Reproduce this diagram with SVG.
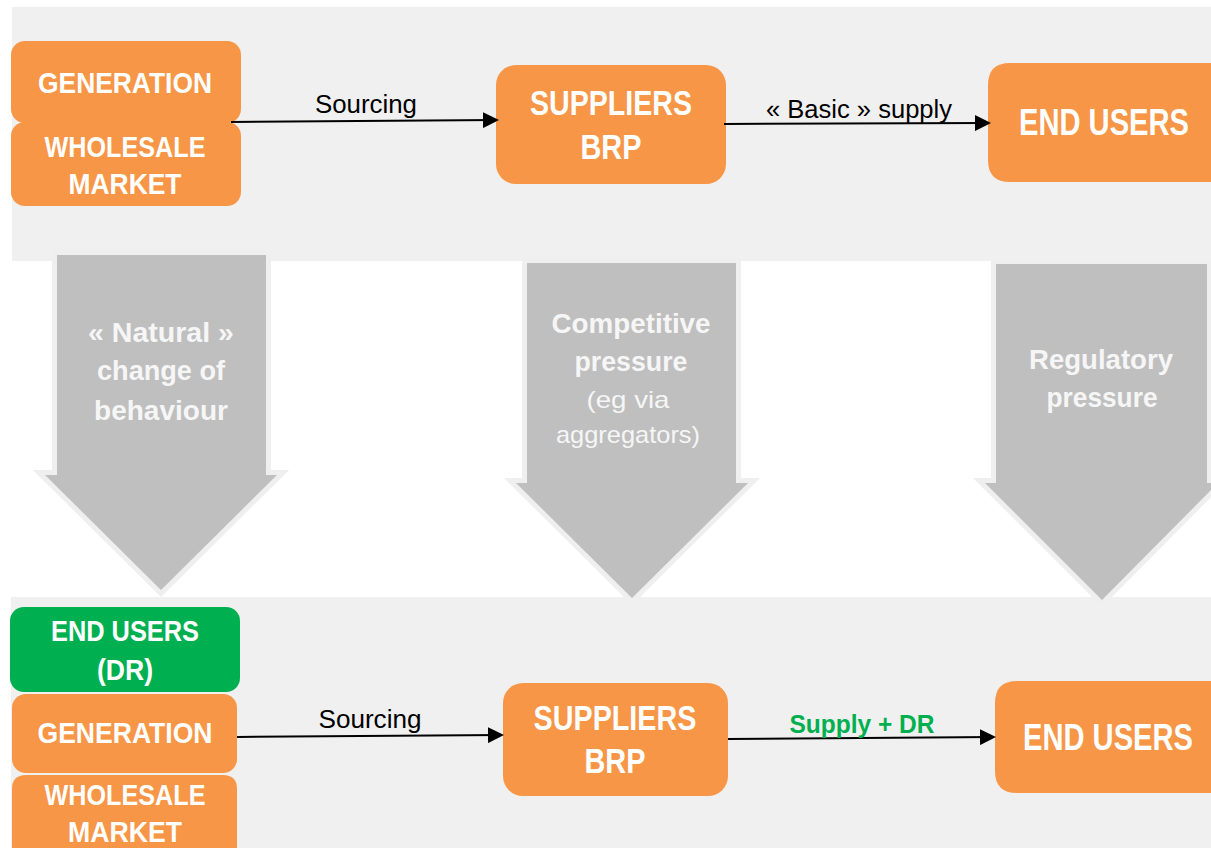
<svg xmlns="http://www.w3.org/2000/svg" width="1211" height="848" viewBox="0 0 1211 848">
<style>
text{font-family:"Liberation Sans",Arial,sans-serif;text-anchor:middle}
.org{fill:#f79646}
.grn{fill:#00b050}
.panel{fill:#f0f0f0}
.w{fill:#ffffff;font-weight:bold}
.lbl{fill:#000000}
.big{fill:#bfbfbf;stroke:#efefef;stroke-width:10;stroke-linejoin:miter;paint-order:stroke}
.bt{fill:#f6f6f6;font-weight:bold}
.bs{fill:#f6f6f6;font-weight:normal}
.line{stroke:#000;stroke-width:2;fill:none}
</style>
<defs>
<marker id="ah" markerWidth="8" markerHeight="8" refX="7" refY="4" orient="auto" markerUnits="strokeWidth">
<path d="M0,0 L8,4 L0,8 z" fill="#000"/>
</marker>
</defs>
<rect width="1211" height="848" fill="#ffffff"/>
<rect class="panel" x="12" y="7" width="1199" height="254"/>
<rect class="panel" x="11" y="597" width="1200" height="251"/>

<g id="arrow-natural">
<polygon class="big" points="57,255 266,255 266,475 277,475 161,590 45,475 57,475"/>
<text class="bt" font-size="28" x="161" y="342" textLength="146" lengthAdjust="spacingAndGlyphs">« Natural »</text>
<text class="bt" font-size="28" x="161" y="380" textLength="128" lengthAdjust="spacingAndGlyphs">change of</text>
<text class="bt" font-size="28" x="161" y="420" textLength="134" lengthAdjust="spacingAndGlyphs">behaviour</text>
</g>
<g id="arrow-competitive">
<polygon class="big" points="527,263 736,263 736,483 748,483 632,598 516,483 527,483"/>
<text class="bt" font-size="28" x="631" y="333" textLength="159" lengthAdjust="spacingAndGlyphs">Competitive</text>
<text class="bt" font-size="28" x="631" y="371" textLength="113" lengthAdjust="spacingAndGlyphs">pressure</text>
<text class="bs" font-size="24" x="628" y="408" textLength="83" lengthAdjust="spacingAndGlyphs">(eg via</text>
<text class="bs" font-size="24" x="628" y="443" textLength="144" lengthAdjust="spacingAndGlyphs">aggregators)</text>
</g>
<g id="arrow-regulatory">
<polygon class="big" points="996,264 1207,264 1207,483 1218,483 1102,600 985,483 996,483"/>
<text class="bt" font-size="28" x="1101" y="369" textLength="144" lengthAdjust="spacingAndGlyphs">Regulatory</text>
<text class="bt" font-size="28" x="1102" y="407" textLength="111" lengthAdjust="spacingAndGlyphs">pressure</text>
</g>

<g id="top-wholesale">
<rect class="org" x="11" y="122" width="230" height="84" rx="14"/>
<text class="w" font-size="30" x="125" y="157" textLength="161" lengthAdjust="spacingAndGlyphs">WHOLESALE</text>
<text class="w" font-size="30" x="125" y="194" textLength="113" lengthAdjust="spacingAndGlyphs">MARKET</text>
</g>
<g id="top-generation">
<rect class="org" x="11" y="41" width="230" height="82" rx="14"/>
<text class="w" font-size="30" x="125" y="93" textLength="174" lengthAdjust="spacingAndGlyphs">GENERATION</text>
</g>
<g id="top-suppliers">
<rect class="org" x="496" y="65" width="230" height="119" rx="20"/>
<text class="w" font-size="35" x="611" y="115" textLength="162" lengthAdjust="spacingAndGlyphs">SUPPLIERS</text>
<text class="w" font-size="35" x="611" y="159" textLength="61" lengthAdjust="spacingAndGlyphs">BRP</text>
</g>
<g id="top-endusers">
<path class="org" d="M1010,63 H1211 V182 H1010 Q988,182 988,160 V85 Q988,63 1010,63 Z"/>
<text class="w" font-size="36" x="1104" y="135" textLength="170" lengthAdjust="spacingAndGlyphs">END USERS</text>
</g>

<g id="bot-wholesale">
<path class="org" d="M26,775 H223 Q237,775 237,789 V848 H12 V789 Q12,775 26,775 Z"/>
<text class="w" font-size="30" x="125" y="805" textLength="161" lengthAdjust="spacingAndGlyphs">WHOLESALE</text>
<text class="w" font-size="30" x="125" y="842" textLength="114" lengthAdjust="spacingAndGlyphs">MARKET</text>
</g>
<g id="bot-generation">
<rect class="org" x="12" y="694" width="225" height="79" rx="14"/>
<text class="w" font-size="30" x="125" y="743" textLength="175" lengthAdjust="spacingAndGlyphs">GENERATION</text>
</g>
<g id="bot-endusers-dr">
<rect class="grn" x="10" y="607" width="230" height="85" rx="14"/>
<text class="w" font-size="30" x="125" y="641" textLength="148" lengthAdjust="spacingAndGlyphs">END USERS</text>
<text class="w" font-size="30" x="125" y="680" textLength="56" lengthAdjust="spacingAndGlyphs">(DR)</text>
</g>
<g id="bot-suppliers">
<rect class="org" x="503" y="683" width="225" height="113" rx="20"/>
<text class="w" font-size="35" x="615" y="730" textLength="163" lengthAdjust="spacingAndGlyphs">SUPPLIERS</text>
<text class="w" font-size="35" x="615" y="773" textLength="61" lengthAdjust="spacingAndGlyphs">BRP</text>
</g>
<g id="bot-endusers">
<path class="org" d="M1017,681 H1211 V793 H1017 Q995,793 995,771 V703 Q995,681 1017,681 Z"/>
<text class="w" font-size="36" x="1108" y="750" textLength="170" lengthAdjust="spacingAndGlyphs">END USERS</text>
</g>

<g id="connectors">
<line class="line" x1="231" y1="122" x2="497" y2="120" marker-end="url(#ah)"/>
<text class="lbl" font-size="25" x="366" y="113" textLength="102" lengthAdjust="spacingAndGlyphs">Sourcing</text>
<line class="line" x1="724" y1="124" x2="989" y2="123" marker-end="url(#ah)"/>
<text class="lbl" font-size="26" x="859" y="118" textLength="186" lengthAdjust="spacingAndGlyphs">« Basic » supply</text>
<line class="line" x1="237" y1="737" x2="502" y2="735" marker-end="url(#ah)"/>
<text class="lbl" font-size="25" x="370" y="728" textLength="103" lengthAdjust="spacingAndGlyphs">Sourcing</text>
<line class="line" x1="728" y1="739" x2="994" y2="737" marker-end="url(#ah)"/>
<text font-size="26" x="862" y="733" fill="#00b050" font-weight="bold" textLength="145" lengthAdjust="spacingAndGlyphs">Supply + DR</text>
</g>
</svg>
